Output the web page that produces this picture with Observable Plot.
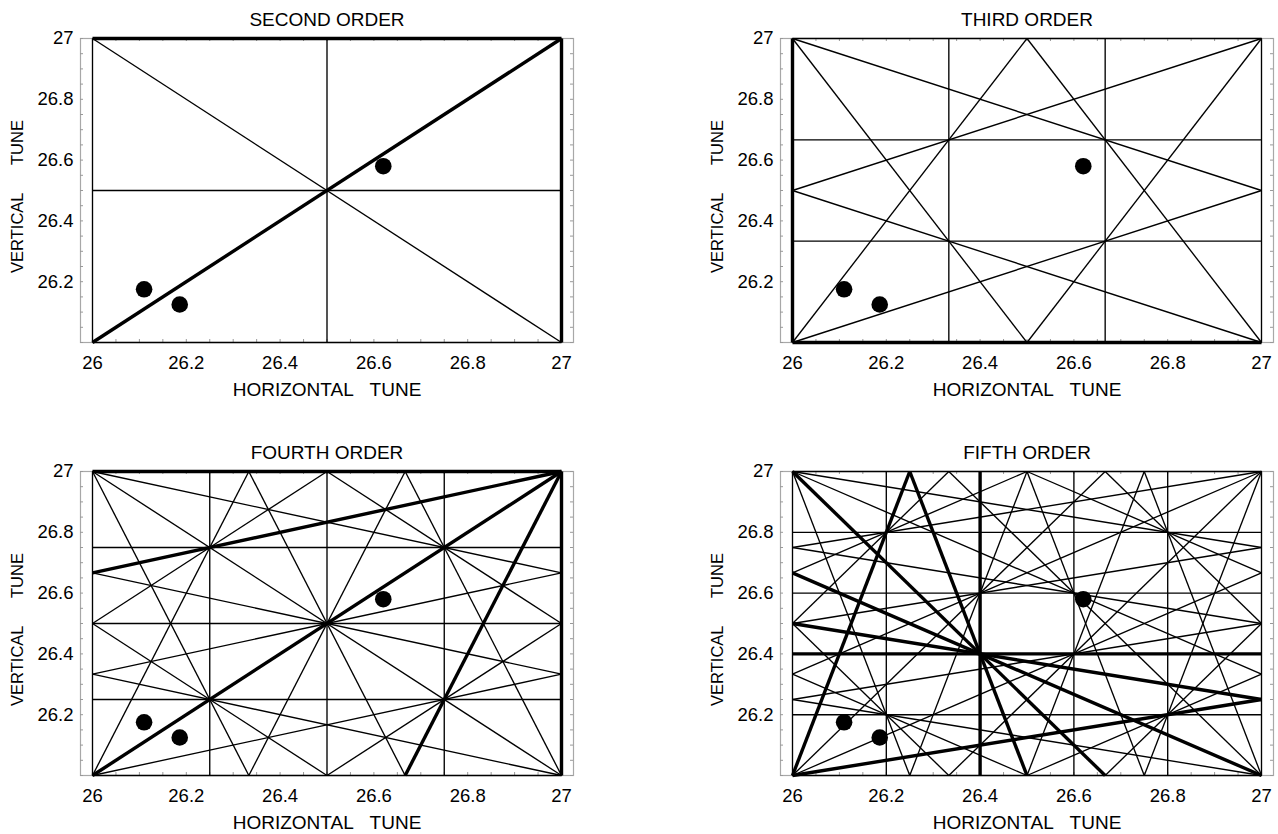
<!DOCTYPE html>
<html>
<head>
<meta charset="utf-8">
<script src="https://cdn.jsdelivr.net/npm/d3@7"></script>
<script src="https://cdn.jsdelivr.net/npm/@observablehq/plot@0.6"></script>
<style>
  html, body { margin: 0; padding: 0; background: #fff; }
  body { width: 1278px; height: 834px; overflow: hidden; position: relative; }
  .panel { position: absolute; width: 620px; height: 410px; }
  .panel svg { max-width: none !important; }
</style>
</head>
<body>
<div class="panel" id="p0" style="left:0px; top:0px"></div>
<div class="panel" id="p1" style="left:700px; top:0px"></div>
<div class="panel" id="p2" style="left:0px; top:433px"></div>
<div class="panel" id="p3" style="left:700px; top:433px"></div>
<script>
// ---- data ----
const panelTitles = ["SECOND ORDER", "THIRD ORDER", "FOURTH ORDER", "FIFTH ORDER"];
const xTickValues = [26, 26.2, 26.4, 26.6, 26.8, 27];
const xTickLabels = ["26", "26.2", "26.4", "26.6", "26.8", "27"];
const yTickValues = [26.2, 26.4, 26.6, 26.8, 27];
const yTickLabels = ["26.2", "26.4", "26.6", "26.8", "27"];
const xAxisLabel = "HORIZONTAL\u00a0\u00a0\u00a0TUNE";
const yAxisLabel = "VERTICAL\u00a0\u00a0\u00a0\u00a0\u00a0\u00a0TUNE";

// working points (horizontal tune, vertical tune)
const tuneX = [26.11, 26.186, 26.62];
const tuneY = [26.175, 26.125, 26.58];

// resonance lines  m*Qx + n*Qy = p   as [m, n, p]
const secondOrder = [
  [2,0,52],[2,0,53],[2,0,54],
  [0,2,52],[0,2,53],[0,2,54],
  [1,1,53],
  [1,-1,0]
];
const thirdOrder = [
  [3,0,78],[3,0,79],[3,0,80],[3,0,81],
  [0,3,78],[0,3,79],[0,3,80],[0,3,81],
  [1,2,79],[1,2,80],
  [2,1,79],[2,1,80],
  [1,-2,-27],[1,-2,-26],
  [2,-1,26],[2,-1,27]
];
const fourthOrder = [
  [4,0,104],[4,0,105],[4,0,106],[4,0,107],[4,0,108],
  [0,4,104],[0,4,105],[0,4,106],[0,4,107],[0,4,108],
  [3,1,105],[3,1,106],[3,1,107],
  [1,3,105],[1,3,106],[1,3,107],
  [2,2,105],[2,2,106],[2,2,107],
  [3,-1,52],[3,-1,53],[3,-1,54],
  [1,-3,-54],[1,-3,-53],[1,-3,-52],
  [2,-2,-1],[2,-2,0],[2,-2,1]
];
const fifthOrder = [
  [5,0,130],[5,0,131],[5,0,132],[5,0,133],[5,0,134],[5,0,135],
  [0,5,130],[0,5,131],[0,5,132],[0,5,133],[0,5,134],[0,5,135],
  [4,1,131],[4,1,132],[4,1,133],[4,1,134],
  [1,4,131],[1,4,132],[1,4,133],[1,4,134],
  [3,2,131],[3,2,132],[3,2,133],[3,2,134],
  [2,3,131],[2,3,132],[2,3,133],[2,3,134],
  [4,-1,78],[4,-1,79],[4,-1,80],[4,-1,81],
  [1,-4,-81],[1,-4,-80],[1,-4,-79],[1,-4,-78],
  [3,-2,25],[3,-2,26],[3,-2,27],[3,-2,28],
  [2,-3,-28],[2,-3,-27],[2,-3,-26],[2,-3,-25]
];
const superperiodicity = 6;   // structure resonances (p multiple of this) drawn heavy
const tuneRange = [26, 27];

// ---- build ----
function segment([m, n, p]) {
  const [lo, hi] = tuneRange;
  const eps = 1e-9;
  const inside = v => v >= lo - eps && v <= hi + eps;
  const pts = [];
  if (n !== 0) for (const x of [lo, hi]) { const y = (p - m * x) / n; if (inside(y)) pts.push([x, y]); }
  if (m !== 0) for (const y of [lo, hi]) { const x = (p - n * y) / m; if (inside(x)) pts.push([x, y]); }
  const uniq = [];
  for (const q of pts) if (!uniq.some(u => Math.abs(u[0] - q[0]) < eps && Math.abs(u[1] - q[1]) < eps)) uniq.push(q);
  if (uniq.length < 2) return null;
  uniq.sort((a, b) => a[0] - b[0] || a[1] - b[1]);
  const a = uniq[0], b = uniq[uniq.length - 1];
  return {x1: a[0], y1: a[1], x2: b[0], y2: b[1], structure: p % superperiodicity === 0};
}

const points = tuneX.map((x, i) => ({x, y: tuneY[i]}));
const minorTicks = d3.ticks(26, 27, 20);
const orders = [secondOrder, thirdOrder, fourthOrder, fifthOrder];

const W = 620, H = 410, mL = 80, mR = 47, mT = 38, mB = 68;
const innerW = W - mL - mR, innerH = H - mT - mB;
const pad = 12 / (innerW - 24);
const font = "'Liberation Sans', Arial, Helvetica, sans-serif";

orders.forEach((lines, i) => {
  const segs = lines.map(segment).filter(Boolean);
  const thin = segs.filter(s => !s.structure);
  const thick = segs.filter(s => s.structure);
  const chart = Plot.plot({
    width: W, height: H,
    marginLeft: mL, marginRight: mR, marginTop: mT, marginBottom: mB,
    x: {domain: [26 - pad, 27 + pad]},
    y: {domain: [26, 27]},
    style: {fontFamily: font, fontSize: "18.5px", color: "black", background: "white", overflow: "visible", maxWidth: "none"},
    marks: [
      Plot.frame({stroke: "#a8a8a8", strokeWidth: 1.2}),
      Plot.ruleX(minorTicks, {x: d => d, insetTop: innerH - 3, stroke: "#999", strokeWidth: 1}),
      Plot.ruleX(minorTicks, {x: d => d, insetBottom: innerH - 3, stroke: "#999", strokeWidth: 1}),
      Plot.ruleY(minorTicks, {y: d => d, insetRight: innerW - 3, stroke: "#999", strokeWidth: 1}),
      Plot.ruleY(minorTicks, {y: d => d, insetLeft: innerW - 3, stroke: "#999", strokeWidth: 1}),
      Plot.link(thin, {x1: "x1", y1: "y1", x2: "x2", y2: "y2", stroke: "black", strokeWidth: 1.35}),
      Plot.link(thick, {x1: "x1", y1: "y1", x2: "x2", y2: "y2", stroke: "black", strokeWidth: 3.4}),
      Plot.dot(points, {x: "x", y: "y", r: 8.3, fill: "black", stroke: null}),
      Plot.axisX(xTickValues, {anchor: "bottom", tickSize: 0, tickPadding: 13, label: null,
        tickFormat: d => xTickLabels[xTickValues.indexOf(d)], fontSize: 18.5}),
      Plot.axisY(yTickValues, {anchor: "left", tickSize: 0, tickPadding: 7, label: null,
        tickFormat: d => yTickLabels[yTickValues.indexOf(d)], fontSize: 18.5}),
      Plot.text([panelTitles[i]], {text: d => d, frameAnchor: "top", dy: -18.5, lineAnchor: "middle", fontSize: 19}),
      Plot.text([xAxisLabel], {text: d => d, frameAnchor: "bottom", dy: 47, lineAnchor: "middle", fontSize: 19}),
      Plot.text([yAxisLabel], {text: d => d, frameAnchor: "left", dx: -63, dy: 6, rotate: -90, textAnchor: "middle", lineAnchor: "middle", fontSize: 16.5})
    ]
  });
  document.getElementById("p" + i).appendChild(chart);
});
</script>
</body>
</html>
